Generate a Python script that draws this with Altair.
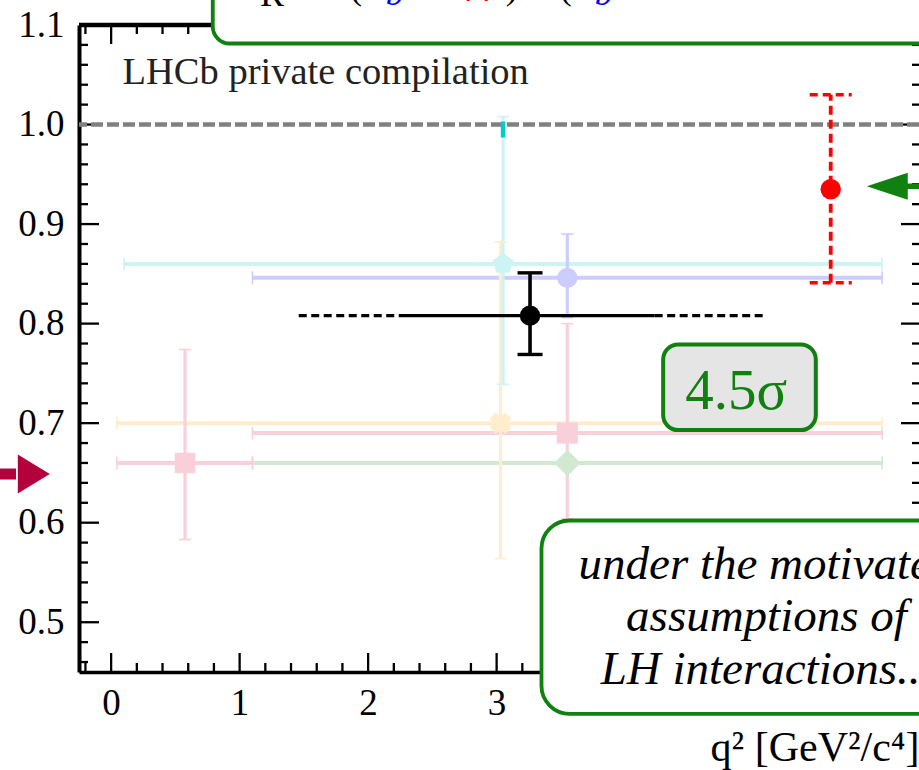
import altair as alt
import pandas as pd

FONT = "Liberation Serif"
GREEN = "#108010"
W, H = 840, 647

X_DOMAIN = [-0.25, 6.287]
Y_DOMAIN = [0.45, 1.1]

# ---- faded earlier measurements ----
ref_x = [0.575, 3.55, 3.03, 3.55, 3.05, 3.55]
ref_y = [0.660, 0.690, 0.700, 0.660, 0.860, 0.846]
ref_xlo = [0.045, 1.1, 0.045, 1.1, 0.1, 1.1]
ref_xhi = [1.1, 6.0, 6.0, 6.0, 6.0, 6.0]
ref_ylo = [0.583, 0.604, 0.564, 0.660, 0.739, 0.806]
ref_yhi = [0.774, 0.800, 0.882, 0.660, 1.008, 0.890]
ref_color = ["#f9d0d9", "#f9d0d9", "#ffedcc", "#d1e8d1", "#ccf4f4", "#ccccff"]
PENTAGON = "M 0 -1 L 0.951 -0.309 L 0.588 0.809 L -0.588 0.809 L -0.951 -0.309 Z"
ref_shape = ["square", "square", "cross", "diamond", PENTAGON, "circle"]
ref_size = [420, 450, 480, 700, 484, 415]
ref_angle = [0, 0, 45, 0, 0, 0]

# highlighted part of the R_pK bar
seg_x = [3.05]
seg_lo = [0.987]
seg_hi = [1.003]

# ---- new (black) measurement ----
new_x = [3.26]
new_y = [0.808]
new_ylo = [0.769]
new_yhi = [0.851]
new_solid_lo = [2.24]
new_solid_hi = [4.23]
new_dash_lo = [1.46, 4.23]
new_dash_hi = [2.24, 5.10]

# ---- red measurement ----
red_x = [5.60]
red_y = [0.935]
red_ylo = [0.841]
red_yhi = [1.030]

# ---- reference line ----
unity = [1.0]

# ---- ticks ----
y_major = [0.5, 0.6, 0.7, 0.8, 0.9, 1.0, 1.1]
y_minor = [v for v in [round(0.46 + 0.02 * i, 2) for i in range(32)] if v not in y_major]
x_major = [0, 1, 2, 3, 4, 5, 6]
x_labels = [0, 1, 2, 3]          # 4, 5, 6 sit under the annotation box
x_minor = [v for v in [round(-0.2 + 0.2 * i, 1) for i in range(33)] if abs(v - round(v)) > 1e-6]

# ---- annotations ----
lhcb_text = ["LHCb private compilation"]
lhcb_x, lhcb_y = [0.0887], [1.0408]

sigma_text = ["4.5σ"]
sigma_x, sigma_y = [4.865], [0.7147]
sigma_box = dict(x=[4.296], x2=[5.484], y=[0.693], y2=[0.779])

top_box = dict(x=[0.791], x2=[7.5], y=[1.0814], y2=[1.35])
bot_box = dict(x=[3.349], x2=[7.5], y=[0.408], y2=[0.6022])

box_lines = ["under the motivated", "assumptions of", "LH interactions..."]
box_line_x = [5.10, 5.10, 5.10]
box_line_y = [0.5436, 0.4912, 0.4384]

frag_roman = ["R", "(", ")", "("]
frag_roman_x = [1.251, 1.905, 3.118, 3.538]
frag_roman_y = [1.1195, 1.1266, 1.1266, 1.1266]
frag_ital = ["b", "μμ", "b"]
frag_ital_x = [2.207, 2.908, 3.834]
frag_ital_y = [1.1201, 1.1321, 1.1201]
frag_ital_c = ["#0000ff", "#ff0000", "#0000ff"]

arrow_left_x, arrow_left_y = [-0.6016], [0.6489]
arrow_left_shaft = [-0.9, -0.74]
arrow_right_x, arrow_right_y = [6.04], [0.938]
arrow_right_shaft = [6.184, 6.5]

xs = alt.Scale(domain=X_DOMAIN, nice=False, zero=False)
ys = alt.Scale(domain=Y_DOMAIN, nice=False, zero=False)

y_axis = alt.Axis(values=y_major, format=".1f", ticks=False, tickSize=0, grid=False,
                  domain=True, domainColor="black", domainWidth=4, labelFont=FONT,
                  labelFontSize=37, labelColor="black", labelPadding=15, title=None,
                  labelFlush=False, zindex=0)
x_axis = alt.Axis(values=x_labels, format="d", ticks=False, tickSize=0, grid=False,
                  domain=True, domainColor="black", domainWidth=3.5, labelFont=FONT,
                  labelFontSize=37, labelColor="black", labelPadding=13,
                  labelFlush=False, title="q² [GeV²/c⁴]", titleFont=FONT,
                  titleFontSize=42, titleFontWeight="normal", titleColor="black",
                  titleAnchor="end", titleBaseline="alphabetic", titleY=88, zindex=0)


def X(f):
    return alt.X(f, type="quantitative", scale=xs, axis=x_axis)


def Y(f):
    return alt.Y(f, type="quantitative", scale=ys, axis=y_axis)


layers = []

# frame top
one = pd.DataFrame({"a": [0]})
layers.append(alt.Chart(one).mark_rule(color="black", strokeWidth=4.5).encode(
    x=alt.value(0), x2=alt.value(W), y=alt.value(0)))

# ticks
dymaj = pd.DataFrame({"v": y_major})
dymin = pd.DataFrame({"v": y_minor})
dxmaj = pd.DataFrame({"v": x_major})
dxmin = pd.DataFrame({"v": x_minor})
tk = dict(color="black", strokeWidth=2.3)
layers.append(alt.Chart(dymaj).mark_rule(**tk).encode(y=Y("v"), x=alt.value(0), x2=alt.value(20)))
layers.append(alt.Chart(dymin).mark_rule(**tk).encode(y=Y("v"), x=alt.value(0), x2=alt.value(9)))
layers.append(alt.Chart(dymaj).mark_rule(**tk).encode(y=Y("v"), x=alt.value(W - 18), x2=alt.value(W)))
layers.append(alt.Chart(dymin).mark_rule(**tk).encode(y=Y("v"), x=alt.value(W - 7), x2=alt.value(W)))
layers.append(alt.Chart(dxmaj).mark_rule(**tk).encode(x=X("v"), y=alt.value(H), y2=alt.value(H - 19)))
layers.append(alt.Chart(dxmin).mark_rule(**tk).encode(x=X("v"), y=alt.value(H), y2=alt.value(H - 9)))
layers.append(alt.Chart(dxmaj).mark_rule(**tk).encode(x=X("v"), y=alt.value(0), y2=alt.value(19)))
layers.append(alt.Chart(dxmin).mark_rule(**tk).encode(x=X("v"), y=alt.value(0), y2=alt.value(9)))

# unity line
layers.append(alt.Chart(pd.DataFrame({"v": unity})).mark_rule(
    color="#808080", strokeWidth=4.5, strokeDash=[12, 4]).encode(y=Y("v")))

# faded points
ref = pd.DataFrame({"x": ref_x, "y": ref_y, "xlo": ref_xlo, "xhi": ref_xhi,
                    "ylo": ref_ylo, "yhi": ref_yhi, "c": ref_color,
                    "shape": ref_shape, "size": ref_size, "angle": ref_angle})
refv = ref[ref["yhi"] > ref["ylo"]]
col = alt.Color("c:N", scale=None)
layers.append(alt.Chart(ref).mark_rule(strokeWidth=4).encode(
    x=X("xlo"), x2=alt.X2("xhi"), y=Y("y"), color=col))
layers.append(alt.Chart(refv).mark_rule(strokeWidth=3.2).encode(
    x=X("x"), y=Y("ylo"), y2=alt.Y2("yhi"), color=col))
for f in ["xlo", "xhi"]:
    layers.append(alt.Chart(ref).mark_rule(strokeWidth=1.6, yOffset=-6.5, y2Offset=6.5).encode(
        x=X(f), y=Y("y"), y2=alt.Y2("y"), color=col))
for f in ["ylo", "yhi"]:
    layers.append(alt.Chart(refv).mark_rule(strokeWidth=1.6, xOffset=-6, x2Offset=6).encode(
        x=X("x"), x2=alt.X2("x"), y=Y(f), color=col))
layers.append(alt.Chart(pd.DataFrame({"x": seg_x, "lo": seg_lo, "hi": seg_hi})).mark_rule(
    color="#00cccc", strokeWidth=4.5).encode(x=X("x"), y=Y("lo"), y2=alt.Y2("hi")))
layers.append(alt.Chart(ref).mark_point(filled=True, opacity=1, strokeWidth=0).encode(
    x=X("x"), y=Y("y"), color=col, shape=alt.Shape("shape:N", scale=None),
    size=alt.Size("size:Q", scale=None), angle=alt.Angle("angle:Q", scale=None)))

# 4.5 sigma box (above faded lines)
layers.append(alt.Chart(pd.DataFrame(sigma_box)).mark_rect(
    fill="#e5e5e5", stroke=GREEN, strokeWidth=4, cornerRadius=15).encode(
    x=X("x"), x2=alt.X2("x2"), y=Y("y"), y2=alt.Y2("y2")))
layers.append(alt.Chart(pd.DataFrame({"t": sigma_text, "x": sigma_x, "y": sigma_y})).mark_text(
    font=FONT, fontSize=57, color=GREEN, align="center", baseline="alphabetic").encode(
    x=X("x"), y=Y("y"), text="t:N"))

# black measurement
nw = pd.DataFrame({"x": new_x, "y": new_y, "ylo": new_ylo, "yhi": new_yhi,
                   "slo": new_solid_lo, "shi": new_solid_hi})
nd = pd.DataFrame({"lo": new_dash_lo, "hi": new_dash_hi, "y": new_y * 2})
layers.append(alt.Chart(nd).mark_rule(color="black", strokeWidth=3.2, strokeDash=[8, 4.5]).encode(
    x=X("lo"), x2=alt.X2("hi"), y=Y("y")))
layers.append(alt.Chart(nw).mark_rule(color="black", strokeWidth=3.2).encode(
    x=X("slo"), x2=alt.X2("shi"), y=Y("y")))
layers.append(alt.Chart(nw).mark_rule(color="black", strokeWidth=3.6).encode(
    x=X("x"), y=Y("ylo"), y2=alt.Y2("yhi")))
for f in ["ylo", "yhi"]:
    layers.append(alt.Chart(nw).mark_rule(color="black", strokeWidth=3.4, xOffset=-12.5, x2Offset=12.5).encode(
        x=X("x"), x2=alt.X2("x"), y=Y(f)))
layers.append(alt.Chart(nw).mark_point(filled=True, opacity=1, color="black", size=415, shape="circle").encode(
    x=X("x"), y=Y("y")))

# red measurement
rd = pd.DataFrame({"x": red_x, "y": red_y, "ylo": red_ylo, "yhi": red_yhi})
layers.append(alt.Chart(rd).mark_rule(color="#ff0000", strokeWidth=3.8, strokeDash=[9, 5]).encode(
    x=X("x"), y=Y("ylo"), y2=alt.Y2("yhi")))
for f in ["ylo", "yhi"]:
    layers.append(alt.Chart(rd).mark_rule(color="#ff0000", strokeWidth=3.5, strokeDash=[8, 5],
                                          xOffset=-21, x2Offset=21).encode(
        x=X("x"), x2=alt.X2("x"), y=Y(f)))
layers.append(alt.Chart(rd).mark_point(filled=True, opacity=1, color="#ff0000", size=415, shape="circle").encode(
    x=X("x"), y=Y("y")))

# arrows
al = pd.DataFrame({"x": arrow_left_x, "y": arrow_left_y,
                   "s0": [arrow_left_shaft[0]], "s1": [arrow_left_shaft[1]]})
layers.append(alt.Chart(al).mark_rule(color="#b4003c", strokeWidth=11).encode(
    x=X("s0"), x2=alt.X2("s1"), y=Y("y")))
layers.append(alt.Chart(al).mark_point(filled=True, opacity=1, color="#b4003c", strokeWidth=0, size=1521,
                                       shape="M -0.82 -1 L 0.82 0 L -0.82 1 Z").encode(x=X("x"), y=Y("y")))
ar = pd.DataFrame({"x": arrow_right_x, "y": arrow_right_y,
                   "s0": [arrow_right_shaft[0]], "s1": [arrow_right_shaft[1]]})
layers.append(alt.Chart(ar).mark_rule(color=GREEN, strokeWidth=5.5).encode(
    x=X("s0"), x2=alt.X2("s1"), y=Y("y")))
layers.append(alt.Chart(ar).mark_point(filled=True, opacity=1, color=GREEN, strokeWidth=0, size=1681,
                                       shape="M 1 -0.66 L -1 0 L 1 0.66 Z").encode(x=X("x"), y=Y("y")))

# LHCb label
layers.append(alt.Chart(pd.DataFrame({"t": lhcb_text, "x": lhcb_x, "y": lhcb_y})).mark_text(
    font=FONT, fontSize=38.5, color="#222222", align="left", baseline="alphabetic").encode(
    x=X("x"), y=Y("y"), text="t:N"))

# top box with cropped formula
layers.append(alt.Chart(pd.DataFrame(top_box)).mark_rect(
    fill="white", stroke=GREEN, strokeWidth=3.8, cornerRadius=17).encode(
    x=X("x"), x2=alt.X2("x2"), y=Y("y"), y2=alt.Y2("y2")))
layers.append(alt.Chart(pd.DataFrame({"t": frag_roman, "x": frag_roman_x, "y": frag_roman_y})).mark_text(
    font=FONT, fontSize=36, color="black", align="center", baseline="alphabetic").encode(
    x=X("x"), y=Y("y"), text="t:N"))
layers.append(alt.Chart(pd.DataFrame({"t": frag_ital, "x": frag_ital_x, "y": frag_ital_y, "c": frag_ital_c})).mark_text(
    font=FONT, fontSize=36, fontStyle="italic", align="center", baseline="alphabetic").encode(
    x=X("x"), y=Y("y"), text="t:N", color=alt.Color("c:N", scale=None)))

# bottom box
layers.append(alt.Chart(pd.DataFrame(bot_box)).mark_rect(
    fill="white", stroke=GREEN, strokeWidth=3.8, cornerRadius=28).encode(
    x=X("x"), x2=alt.X2("x2"), y=Y("y"), y2=alt.Y2("y2")))
layers.append(alt.Chart(pd.DataFrame({"t": box_lines, "x": box_line_x, "y": box_line_y})).mark_text(
    font=FONT, fontSize=47, fontStyle="italic", color="black", align="center", baseline="alphabetic").encode(
    x=X("x"), y=Y("y"), text="t:N"))

chart = alt.layer(*layers).properties(
    width=W, height=H,
    autosize=alt.AutoSizeParams(type="none"),
    padding={"left": 79, "top": 25, "right": 0, "bottom": 98},
    background="white",
).configure_view(stroke=None)

chart.save("out.html", embed_options={"renderer": "svg", "actions": False})
